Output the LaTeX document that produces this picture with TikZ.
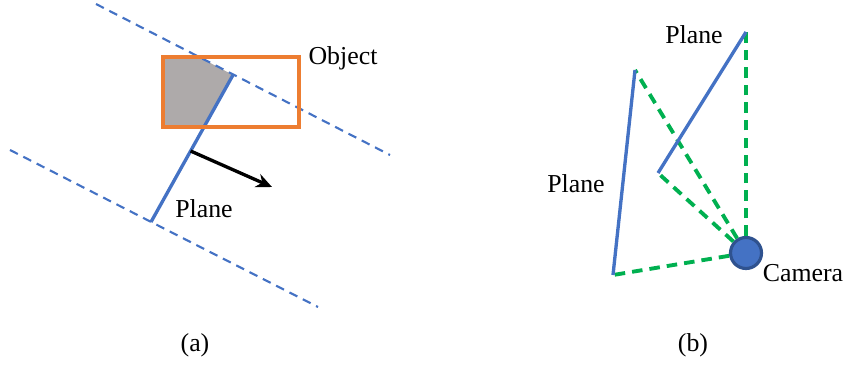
\documentclass[tikz,border=0pt]{standalone}
\usepackage{fontspec}
\setmainfont{Liberation Serif}
\usetikzlibrary{calc,arrows.meta}
\definecolor{pblue}{HTML}{4472C4}
\definecolor{pdark}{HTML}{2F528F}
\definecolor{porange}{HTML}{ED7D31}
\definecolor{pgray}{HTML}{AEAAAA}
\definecolor{pgreen}{HTML}{00B050}
\begin{document}
\begin{tikzpicture}[scale=1,font=\fontsize{14.7}{17}\selectfont,
  plane/.style={line width=1.9pt,pblue},
  bound/.style={line width=1.2pt,pblue,dash pattern=on 5pt off 3.5pt},
  ray/.style={line width=2.2pt,pgreen,dash pattern=on 6pt off 4pt}]
\useasboundingbox (0,0) rectangle (16.98,7.3);
\coordinate (L1) at (1.92,7.22); \coordinate (L2) at (7.8,4.2); \coordinate (M1) at (0.2,4.3); \coordinate (M2) at (6.36,1.16);
\coordinate (P1) at (3.02,2.86); \coordinate (P2) at (4.66,5.8); \coordinate (Q) at ($(P1)!0.483!(P2)$); \coordinate (N) at (5.44,3.56);
\coordinate (R1) at (3.26,4.76); \coordinate (R2) at (5.98,6.16);
\fill[pgray] (3.26,6.16)--(3.98,6.16)--(P2)--(4.08,4.76)--(R1)--cycle;
\draw[bound] (L1)--(L2); \draw[bound] (M1)--(M2);
\draw[plane] (P1)--(P2);
\draw[porange,line width=2pt] (R1) rectangle (R2);
\draw[line width=1.9pt,-{Stealth[length=9pt,width=8pt]}] (Q)--(N);
\node (obj) at (6.86,6.14) {Object};
\node (pl1) at (4.08,3.12) {Plane};
\node (capa) at (3.9,0.4) {(a)};
\coordinate (A) at (12.7,5.9); \coordinate (B) at (12.26,1.8); \coordinate (C) at (13.16,3.84); \coordinate (D) at (14.92,6.66);
\node[circle,draw=pdark,fill=pblue,line width=1.8pt,minimum size=0.62cm,inner sep=0pt] (cam) at (14.92,2.24) {};
\draw[ray] (cam)--(A); \draw[ray] (cam)--(B); \draw[ray] (cam)--(C); \draw[ray] (cam)--(D);
\draw[plane] (A)--(B); \draw[plane] (C)--(D);
\node (pl2) at (13.88,6.6) {Plane};
\node (pl3) at (11.52,3.62) {Plane};
\node (camlab) at (16.06,1.84) {Camera};
\node (capb) at (13.86,0.4) {(b)};
\end{tikzpicture}
\end{document}
